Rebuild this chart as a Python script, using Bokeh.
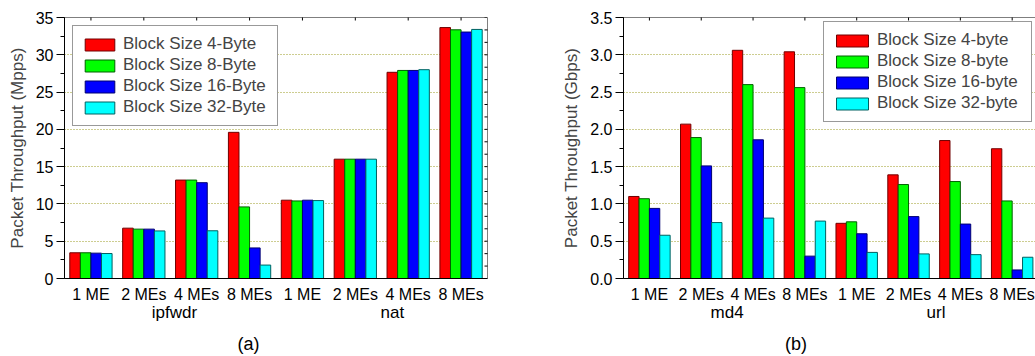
import math
from bokeh.plotting import figure
from bokeh.models import (ColumnDataSource, FixedTicker, SingleIntervalTicker, LinearAxis,
                          Legend, LegendItem, Range1d, Span, PrintfTickFormatter)
from bokeh.layouts import row
from bokeh.transform import dodge
from bokeh.embed import file_html
from bokeh.resources import INLINE

# ---------------- data ----------------
categories = ["1 ME", "2 MEs", "4 MEs", "8 MEs"]
groups_a = ["ipfwdr", "nat"]
groups_b = ["md4", "url"]

series_a = ["Block Size 4-Byte", "Block Size 8-Byte", "Block Size 16-Byte", "Block Size 32-Byte"]
series_b = ["Block Size 4-byte", "Block Size 8-byte", "Block Size 16-byte", "Block Size 32-byte"]

# (a) Packet Throughput (Mpps): ipfwdr 1/2/4/8 MEs, nat 1/2/4/8 MEs
a_4 = [3.45, 6.75, 13.2, 19.6, 10.5, 16.0, 27.65, 33.65]
a_8 = [3.45, 6.62, 13.2, 9.6, 10.4, 16.0, 27.9, 33.35]
a_16 = [3.4, 6.62, 12.85, 4.1, 10.5, 16.0, 27.9, 33.05]
a_32 = [3.35, 6.38, 6.4, 1.8, 10.45, 16.0, 28.0, 33.4]

# (b) Packet Throughput (Gbps): md4 1/2/4/8 MEs, url 1/2/4/8 MEs
b_4 = [1.10, 2.07, 3.06, 3.04, 0.74, 1.39, 1.85, 1.74]
b_8 = [1.07, 1.89, 2.60, 2.56, 0.76, 1.26, 1.30, 1.04]
b_16 = [0.94, 1.51, 1.86, 0.30, 0.60, 0.83, 0.73, 0.115]
b_32 = [0.58, 0.75, 0.81, 0.77, 0.35, 0.33, 0.32, 0.285]

fill_colors = ["#FF0000", "#00FF00", "#0000FF", "#00FFFF"]
edge_colors = ["#700000", "#006000", "#000070", "#006060"]

FONT = "Liberation Sans"
BAR_W = 0.2


def label_axis(ticks, labels, size, standoff):
    ax = LinearAxis(ticker=FixedTicker(ticks=ticks),
                    major_label_overrides={t: s for t, s in zip(ticks, labels)},
                    major_label_text_font=FONT, major_label_text_font_size=size,
                    major_label_text_color="black", major_label_standoff=standoff,
                    axis_line_color=None, major_tick_line_color=None, minor_tick_line_color=None,
                    major_tick_in=0, major_tick_out=0, minor_tick_in=0, minor_tick_out=0)
    return ax


def make_chart(values, series, groups, ymax, major, grid_ticks, ylabel, panel_label,
               width, border_left, border_right, border_top, x_end, legend_loc,
               group_x, panel_x, right_axis, fmt, legend_glyph_w, legend_label_w):
    n = len(values[0])
    xs = list(range(n))
    data = dict(x=xs)
    for k, v in enumerate(values):
        data["s%d" % k] = v
    src = ColumnDataSource(data)

    p = figure(width=width, height=356, x_range=Range1d(-0.5, x_end), y_range=Range1d(0, ymax),
               output_backend="svg", toolbar_location=None,
               min_border_left=border_left, min_border_right=border_right,
               min_border_top=border_top, min_border_bottom=78)
    p.outline_line_color = None
    p.background_fill_color = "white"
    p.border_fill_color = "white"

    renderers = []
    for k in range(len(values)):
        r = p.vbar(x=dodge("x", (k - 1.5) * BAR_W), top="s%d" % k, width=BAR_W, source=src,
                   fill_color=fill_colors[k], line_color=edge_colors[k], line_width=1)
        renderers.append(r)

    # y axis (left)
    ya = p.yaxis[0]
    ya.ticker = SingleIntervalTicker(interval=major, num_minor_ticks=2)
    ya.formatter = PrintfTickFormatter(format=fmt)
    ya.axis_label = ylabel
    ya.axis_label_text_font = FONT
    ya.axis_label_text_font_size = "17px"
    ya.axis_label_text_font_style = "normal"
    ya.axis_label_standoff = 6
    ya.major_label_text_font = FONT
    ya.major_label_text_font_size = "16px"
    ya.major_label_text_color = "black"
    ya.major_tick_out = 8
    ya.major_tick_in = 0
    ya.minor_tick_out = 4
    ya.minor_tick_in = 0
    ya.major_label_standoff = 3
    ya.axis_line_color = "black"
    ya.major_tick_line_color = "black"
    ya.minor_tick_line_color = "black"

    # x axis (bottom): category labels
    xa = p.xaxis[0]
    xa.ticker = FixedTicker(ticks=xs)
    xa.major_label_overrides = {i: categories[i % len(categories)] for i in xs}
    xa.major_label_text_font = FONT
    xa.major_label_text_font_size = "16px"
    xa.major_label_text_color = "black"
    xa.major_tick_out = 0
    xa.major_tick_in = 0
    xa.minor_tick_out = 0
    xa.minor_tick_in = 0
    xa.major_label_standoff = 7
    xa.axis_line_color = "black"

    # second level: group names ; third level: panel label
    p.add_layout(label_axis(group_x, groups, "17px", -3), "below")
    p.add_layout(label_axis([panel_x], [panel_label], "18px", 9), "below")

    # frame lines on top (and right for the left panel)
    p.add_layout(Span(location=ymax, dimension="width", line_color="black", line_width=1))
    ticks_y = [major * i / 3.0 for i in range(int(round(ymax / major * 3)) + 1)]
    p.scatter(x=xs, y=[ymax] * n, marker="dash", angle=math.pi / 2, size=6,
              line_color="black", line_width=1)
    if right_axis:
        p.add_layout(Span(location=x_end, dimension="height", line_color="black", line_width=1))
        p.scatter(x=[x_end] * len(ticks_y), y=ticks_y, marker="dash", size=6,
                  line_color="black", line_width=1)

    p.xgrid.visible = False
    p.ygrid.ticker = FixedTicker(ticks=grid_ticks)
    p.ygrid.grid_line_color = "#9a9a20"
    p.ygrid.grid_line_dash = "1 2"
    p.ygrid.grid_line_width = 1

    legend = Legend(items=[LegendItem(label=series[k], renderers=[renderers[k]])
                           for k in range(len(series))],
                    location=legend_loc)
    legend.label_text_font = FONT
    legend.label_text_font_size = "17px"
    legend.glyph_width = legend_glyph_w
    legend.glyph_height = 15
    legend.label_height = 15
    legend.label_standoff = 5
    legend.spacing = 1
    legend.padding = 8
    legend.margin = 8
    legend.border_line_color = "#333333"
    legend.border_line_width = 1
    legend.background_fill_alpha = 1
    legend.label_width = legend_label_w
    p.add_layout(legend)
    return p


pa = make_chart([a_4, a_8, a_16, a_32], series_a, groups_a, 35, 5,
                [5, 10, 15, 20, 25, 30], "Packet Throughput (Mpps)", "(a)",
                width=540, border_left=64, border_right=53, border_top=12, x_end=7.5,
                legend_loc="top_left", group_x=[1.58, 5.7], panel_x=2.98, right_axis=True,
                fmt="%d", legend_glyph_w=37, legend_label_w=146)

pb = make_chart([b_4, b_8, b_16, b_32], series_b, groups_b, 3.5, 0.5,
                [0.5, 1.0, 1.5, 2.0, 2.5, 3.0], "Packet Throughput (Gbps)", "(b)",
                width=495, border_left=83, border_right=0, border_top=17, x_end=7.45,
                legend_loc=(200, 156), group_x=[1.5, 5.53], panel_x=2.83, right_axis=False,
                fmt="%.1f", legend_glyph_w=40, legend_label_w=146)

layout = row(pa, pb)
open("out.html", "w").write(file_html(layout, INLINE))
